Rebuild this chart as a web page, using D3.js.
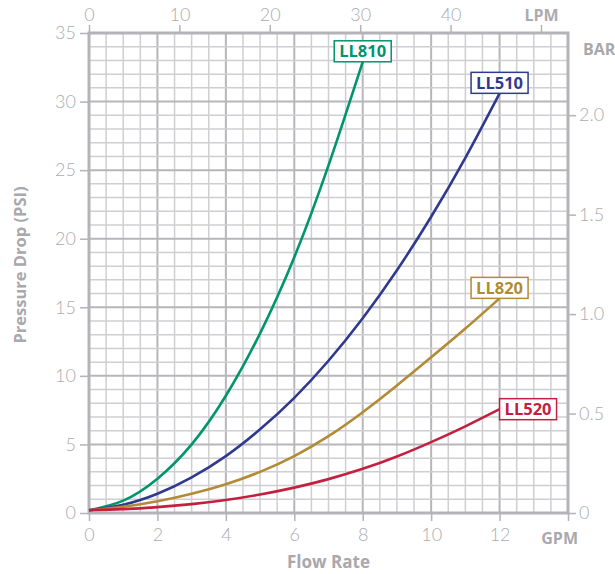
<!DOCTYPE html>
<html>
<head>
<meta charset="utf-8">
<script src="https://cdn.jsdelivr.net/npm/d3@7"></script>
<style>
	body { margin: 0; background: #fff; }
	svg text { font-family: "Open Sans", "DejaVu Sans", sans-serif; }
	svg .tick text { font-family: "Lato", "Open Sans", sans-serif; }
</style>
</head>
<body>
<svg id="chart" width="615" height="574"></svg>
<script>
// Flow rate (GPM) vs pressure drop (PSI)
const gpmShort = [0, 1, 2, 3, 4, 5, 6, 7, 8];
const gpmLong = [0, 1, 2, 3, 4, 5, 6, 7, 8, 9, 10, 11, 12];

const psiLL810 = [0.2, 0.9, 2.5, 5.0, 8.55, 13.1, 18.65, 25.35, 32.9];
const psiLL510 = [0.2, 0.6, 1.4, 2.6, 4.15, 6.1, 8.4, 11.1, 14.2, 17.7, 21.6, 25.9, 30.6];
const psiLL820 = [0.2, 0.45, 0.85, 1.4, 2.1, 3.0, 4.15, 5.6, 7.35, 9.3, 11.35, 13.45, 15.65];
const psiLL520 = [0.2, 0.28, 0.43, 0.65, 0.95, 1.35, 1.85, 2.47, 3.22, 4.12, 5.17, 6.32, 7.57];

const seriesNames = ["LL810", "LL510", "LL820", "LL520"];
const seriesColors = ["#00956a", "#2f3a8f", "#b38a35", "#c3203f"];

const gpmTicks = [0, 2, 4, 6, 8, 10, 12, 14];
const lpmTicks = [0, 10, 20, 30, 40, 50];
const psiTicks = [0, 5, 10, 15, 20, 25, 30, 35];
const barTicks = [0, 0.5, 1.0, 1.5, 2.0];

const GPM_MAX = 14;
const PSI_MAX = 35;
const LPM_PER_GPM = 3.785;
const PSI_PER_BAR = 14.5038;

const svg = d3.select("#chart");
const margin = { top: 33, right: 47, bottom: 61, left: 89 };
const width = 615 - margin.left - margin.right;
const height = 574 - margin.top - margin.bottom;

const tickGrey = "#ababb0";
const labelGrey = "#a8a8ad";

const x = d3.scaleLinear().domain([0, GPM_MAX]).range([0, width]);
const xLpm = d3.scaleLinear().domain([0, GPM_MAX * LPM_PER_GPM]).range([0, width]);
const y = d3.scaleLinear().domain([0, PSI_MAX]).range([height, 0]);
const yBar = d3.scaleLinear().domain([0, PSI_MAX / PSI_PER_BAR]).range([height, 0]);

const g = svg.append("g").attr("transform", `translate(${margin.left},${margin.top})`);

// grid: minor every 0.5 GPM / 1 PSI, major every 2 GPM / 5 PSI
const grid = g.append("g");
const vLines = d3.range(0, GPM_MAX + 0.01, 0.5);
const hLines = d3.range(0, PSI_MAX + 0.01, 1);
grid.selectAll(".v")
	.data(vLines)
	.enter()
	.append("line")
	.attr("x1", (d) => x(d))
	.attr("x2", (d) => x(d))
	.attr("y1", 0)
	.attr("y2", height)
	.attr("stroke", (d) => (d % 2 === 0 ? "#b6b6bb" : "#cfcfd3"))
	.attr("stroke-width", (d) => (d % 2 === 0 ? 2 : 1.5));
grid.selectAll(".h")
	.data(hLines)
	.enter()
	.append("line")
	.attr("x1", 0)
	.attr("x2", width)
	.attr("y1", (d) => y(d))
	.attr("y2", (d) => y(d))
	.attr("stroke", (d) => (d % 5 === 0 ? "#b6b6bb" : "#cfcfd3"))
	.attr("stroke-width", (d) => (d % 5 === 0 ? 2 : 1.5));

// frame
g.append("rect")
	.attr("width", width)
	.attr("height", height)
	.attr("fill", "none")
	.attr("stroke", "#b3b3b8")
	.attr("stroke-width", 3);

function styleAxis(sel) {
	sel.select(".domain").remove();
	sel.selectAll(".tick line").attr("stroke", "#b3b3b8").attr("stroke-width", 1.5);
	sel.selectAll(".tick text")
		.attr("fill", tickGrey)
		.style("font-size", "18px")
		.style("font-weight", 300);
}

// axes
g.append("g")
	.call(d3.axisLeft(y).tickValues(psiTicks).tickSize(9).tickPadding(4))
	.call(styleAxis);

g.append("g")
	.attr("transform", `translate(0,${height})`)
	.call(d3.axisBottom(x).tickValues(gpmTicks).tickSize(8).tickPadding(7)
		.tickFormat((d) => (d === GPM_MAX ? "" : d)))
	.call(styleAxis);

g.append("g")
	.call(d3.axisTop(xLpm).tickValues(lpmTicks).tickSize(8).tickPadding(4)
		.tickFormat((d) => (d === 50 ? "LPM" : d)))
	.call(styleAxis)
	.selectAll(".tick text")
	.filter((d) => d === 50)
	.style("font-family", "'Open Sans', sans-serif")
	.style("font-weight", 700)
	.style("font-size", "16px");

g.append("g")
	.attr("transform", `translate(${width},0)`)
	.call(d3.axisRight(yBar).tickValues(barTicks).tickSize(8).tickPadding(3)
		.tickFormat((d) => (d === 0 ? "0" : d3.format(".1f")(d))))
	.call(styleAxis);

// unit labels
svg.append("text")
	.attr("x", 578)
	.attr("y", 544)
	.attr("text-anchor", "end")
	.attr("fill", labelGrey)
	.style("font-size", "16px")
	.style("font-weight", 700)
	.text("GPM");

svg.append("text")
	.attr("x", 583)
	.attr("y", 55)
	.attr("fill", labelGrey)
	.style("font-size", "16px")
	.style("font-weight", 700)
	.text("BAR");

// axis titles
svg.append("text")
	.attr("x", margin.left + width / 2)
	.attr("y", 568)
	.attr("text-anchor", "middle")
	.attr("fill", labelGrey)
	.style("font-size", "17px")
	.style("font-weight", 700)
	.text("Flow Rate");

svg.append("text")
	.attr("transform", `translate(26,${margin.top + height / 2 - 8}) rotate(-90)`)
	.attr("text-anchor", "middle")
	.attr("fill", labelGrey)
	.style("font-size", "16.5px")
	.style("font-weight", 700)
	.text("Pressure Drop (PSI)");

// curves
const series = [
	{ name: seriesNames[0], gpm: gpmShort, psi: psiLL810, color: seriesColors[0], place: "above" },
	{ name: seriesNames[1], gpm: gpmLong, psi: psiLL510, color: seriesColors[1], place: "above" },
	{ name: seriesNames[2], gpm: gpmLong, psi: psiLL820, color: seriesColors[2], place: "above" },
	{ name: seriesNames[3], gpm: gpmLong, psi: psiLL520, color: seriesColors[3], place: "right" },
];

const line = d3.line()
	.x((d) => x(d[0]))
	.y((d) => y(d[1]))
	.curve(d3.curveNatural);

g.selectAll(".curve")
	.data(series)
	.enter()
	.append("path")
	.attr("class", "curve")
	.attr("d", (d) => line(d.gpm.map((v, i) => [v, d.psi[i]])))
	.attr("fill", "none")
	.attr("stroke", (d) => d.color)
	.attr("stroke-width", 2.6);

// labels in boxes at the curve ends
const boxW = 57;
const boxH = 21;
const labels = g.selectAll(".lbl")
	.data(series)
	.enter()
	.append("g")
	.attr("class", "lbl")
	.attr("transform", (d) => {
		const ex = x(d.gpm[d.gpm.length - 1]);
		const ey = y(d.psi[d.psi.length - 1]);
		return d.place === "right"
			? `translate(${ex},${ey - boxH / 2})`
			: `translate(${ex - boxW / 2},${ey - boxH})`;
	});

labels.append("rect")
	.attr("width", boxW)
	.attr("height", boxH)
	.attr("fill", "#fff")
	.attr("stroke", (d) => d.color)
	.attr("stroke-width", 1.5);

labels.append("text")
	.attr("x", boxW / 2)
	.attr("y", boxH / 2 + 6)
	.attr("text-anchor", "middle")
	.attr("fill", (d) => d.color)
	.style("font-size", "16.5px")
	.style("font-weight", 700)
	.text((d) => d.name);
</script>
</body>
</html>
